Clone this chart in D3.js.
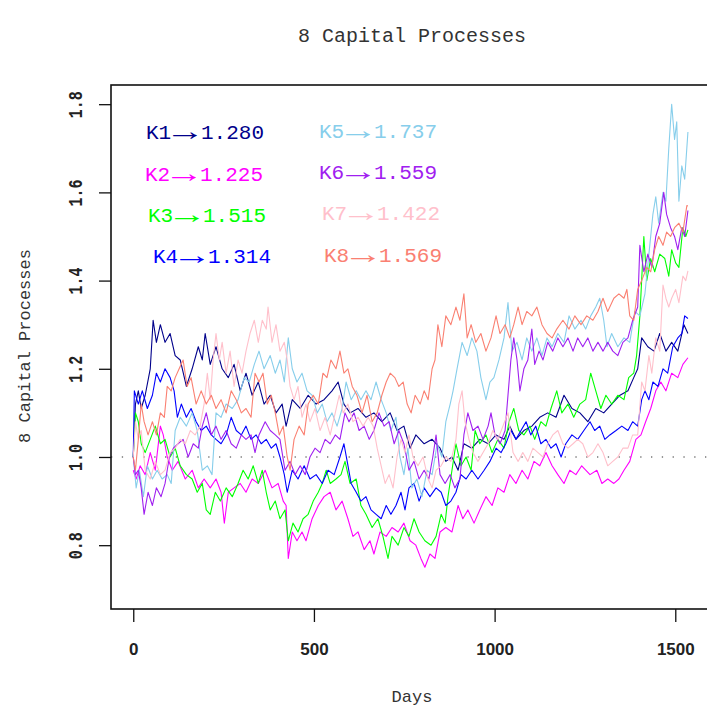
<!DOCTYPE html>
<html>
<head>
<meta charset="utf-8">
<script src="https://cdn.jsdelivr.net/npm/d3@7"></script>
<style>
  body { margin: 0; background: #fff; }
  svg { display: block; }
</style>
</head>
<body>
<script>

// Width and height of the page
var width = 707;
var height = 706;

// Plot region (R style box, right side runs past the window)
var margin = {left: 111, top: 85, right: 712, bottom: 609};

// ---- data: [day, capital] ----
var k1 = [[0,1.00],[6,1.12],[14,1.15],[22,1.11],[33,1.14],[47,1.20],[55,1.31],[64,1.26],[75,1.30],[88,1.26],[102,1.28],[116,1.23],[130,1.22],[147,1.16],[163,1.20],[180,1.25],[191,1.22],[199,1.28],[213,1.21],[229,1.25],[246,1.20],[263,1.18],[279,1.21],[296,1.15],[312,1.19],[329,1.14],[346,1.17],[362,1.12],[379,1.14],[395,1.10],[412,1.12],[423,1.07],[440,1.13],[462,1.11],[484,1.14],[506,1.12],[528,1.13],[550,1.15],[567,1.17],[583,1.12],[600,1.10],[622,1.11],[644,1.09],[666,1.10],[688,1.08],[711,1.10],[730,1.06],[749,1.07],[766,1.02],[782,1.05],[805,1.03],[827,1.04],[849,1.02],[865,0.99],[882,1.00],[899,0.97],[915,1.03],[937,1.02],[959,1.04],[982,1.03],[1004,1.05],[1026,1.04],[1042,1.07],[1059,1.04],[1081,1.06],[1103,1.07],[1125,1.09],[1147,1.10],[1170,1.09],[1192,1.14],[1214,1.11],[1236,1.10],[1258,1.08],[1280,1.11],[1302,1.10],[1324,1.12],[1347,1.14],[1369,1.15],[1385,1.18],[1396,1.20],[1407,1.27],[1424,1.25],[1441,1.24],[1457,1.28],[1474,1.24],[1490,1.26],[1507,1.24],[1524,1.30],[1535,1.28]];

var k2 = [[0,0.97],[8,0.95],[19,0.98],[33,0.96],[47,1.01],[61,0.97],[75,1.07],[83,1.05],[94,1.00],[108,0.97],[124,0.99],[144,0.95],[163,0.97],[180,0.93],[196,0.95],[213,0.93],[229,0.95],[243,0.92],[252,0.85],[263,0.92],[279,0.93],[296,0.94],[312,0.92],[329,0.95],[346,0.94],[365,0.97],[384,0.93],[401,0.94],[415,0.90],[423,0.89],[429,0.77],[440,0.83],[453,0.81],[467,0.83],[478,0.81],[495,0.86],[512,0.89],[528,0.91],[545,0.92],[561,0.88],[578,0.90],[594,0.86],[608,0.82],[622,0.83],[639,0.79],[655,0.81],[666,0.78],[683,0.83],[700,0.82],[716,0.84],[733,0.83],[749,0.85],[766,0.81],[782,0.80],[796,0.77],[807,0.75],[821,0.78],[835,0.77],[849,0.83],[865,0.84],[882,0.83],[899,0.89],[912,0.86],[926,0.88],[943,0.85],[959,0.88],[976,0.91],[993,0.89],[1009,0.93],[1026,0.92],[1042,0.96],[1059,0.94],[1076,0.97],[1092,0.95],[1109,0.99],[1125,0.98],[1142,1.01],[1159,0.98],[1175,0.96],[1192,0.94],[1208,0.97],[1225,0.96],[1241,0.98],[1264,0.96],[1283,0.97],[1297,0.94],[1313,0.95],[1330,0.94],[1344,0.95],[1358,0.97],[1374,0.99],[1391,1.04],[1405,1.05],[1418,1.08],[1432,1.11],[1446,1.15],[1460,1.17],[1474,1.15],[1490,1.19],[1507,1.18],[1521,1.21],[1535,1.225]];

var k3 = [[0,1.00],[6,1.10],[14,1.08],[22,1.03],[33,1.01],[47,1.04],[61,1.07],[75,1.03],[88,1.04],[102,1.00],[116,1.02],[130,0.98],[147,0.96],[163,0.95],[177,0.92],[191,0.94],[202,0.88],[213,0.87],[227,0.92],[241,0.90],[257,0.93],[274,0.91],[290,0.94],[304,0.97],[318,0.95],[332,0.98],[346,0.94],[357,0.97],[368,0.92],[379,0.88],[393,0.90],[406,0.86],[420,0.88],[429,0.81],[442,0.85],[456,0.83],[470,0.86],[484,0.87],[498,0.90],[512,0.92],[523,0.94],[534,0.97],[545,0.94],[561,0.95],[575,0.96],[586,0.99],[600,0.94],[617,0.95],[630,0.89],[644,0.87],[661,0.84],[677,0.86],[691,0.82],[705,0.77],[716,0.82],[733,0.80],[749,0.84],[763,0.82],[777,0.86],[791,0.83],[807,0.81],[824,0.80],[838,0.82],[852,0.87],[863,0.85],[871,0.91],[882,0.97],[893,1.03],[907,0.98],[921,1.00],[935,0.97],[946,1.06],[959,1.03],[976,1.05],[993,1.01],[1009,1.04],[1026,1.02],[1040,1.08],[1053,1.11],[1067,1.06],[1081,1.05],[1098,1.07],[1111,1.04],[1128,1.08],[1142,1.07],[1156,1.11],[1172,1.15],[1186,1.10],[1203,1.12],[1219,1.09],[1236,1.12],[1252,1.13],[1266,1.19],[1280,1.15],[1294,1.11],[1308,1.14],[1324,1.12],[1341,1.14],[1358,1.13],[1371,1.18],[1385,1.19],[1393,1.23],[1402,1.32],[1413,1.50],[1421,1.40],[1432,1.45],[1443,1.42],[1457,1.46],[1471,1.45],[1482,1.41],[1490,1.47],[1501,1.44],[1510,1.43],[1521,1.52],[1529,1.50],[1535,1.515]];

var k4 = [[0,1.00],[3,1.15],[14,1.12],[25,1.15],[39,1.11],[53,1.14],[64,1.19],[75,1.17],[88,1.20],[102,1.18],[113,1.15],[122,1.09],[133,1.12],[147,1.09],[160,1.11],[174,1.08],[188,1.06],[202,1.07],[216,1.05],[229,1.04],[243,1.03],[257,1.05],[271,1.09],[285,1.06],[299,1.05],[312,1.07],[326,1.04],[340,1.05],[354,1.03],[368,1.04],[382,1.02],[395,1.03],[406,1.00],[418,0.96],[426,0.92],[440,0.97],[456,0.95],[473,0.98],[489,0.95],[506,0.96],[523,0.94],[539,0.97],[556,0.96],[572,1.00],[583,1.03],[592,0.99],[603,0.94],[617,0.92],[630,0.90],[644,0.91],[658,0.88],[672,0.87],[686,0.86],[700,0.89],[713,0.87],[727,0.89],[741,0.92],[752,0.88],[763,0.93],[777,0.94],[791,0.90],[805,0.93],[821,0.91],[838,0.93],[852,0.92],[865,0.89],[879,0.90],[893,0.92],[907,0.96],[921,0.95],[937,0.97],[954,0.95],[971,0.97],[987,0.99],[1004,1.02],[1018,1.01],[1031,1.03],[1045,1.06],[1059,1.04],[1073,1.06],[1087,1.08],[1100,1.05],[1114,1.07],[1128,1.03],[1142,1.04],[1156,1.02],[1170,1.03],[1184,1.00],[1197,1.03],[1214,1.05],[1230,1.04],[1247,1.06],[1264,1.08],[1277,1.06],[1291,1.07],[1305,1.04],[1319,1.05],[1336,1.06],[1352,1.07],[1369,1.06],[1382,1.08],[1396,1.07],[1407,1.13],[1416,1.15],[1427,1.13],[1438,1.17],[1452,1.16],[1466,1.20],[1479,1.19],[1493,1.25],[1507,1.27],[1518,1.28],[1526,1.32],[1535,1.314]];

var k5 = [[0,1.00],[8,0.93],[17,0.97],[28,0.91],[39,0.98],[53,0.95],[66,0.97],[80,0.95],[94,0.96],[105,0.94],[116,1.06],[130,1.09],[147,1.07],[163,1.10],[177,1.06],[191,0.97],[205,0.98],[218,0.96],[229,1.10],[243,1.09],[257,1.12],[274,1.11],[290,1.13],[307,1.18],[321,1.17],[335,1.21],[348,1.24],[362,1.20],[379,1.23],[393,1.19],[406,1.22],[418,1.17],[429,1.27],[440,1.20],[453,1.17],[467,1.19],[481,1.15],[495,1.14],[509,1.10],[523,1.12],[536,1.08],[550,1.10],[564,1.07],[578,1.11],[589,1.17],[603,1.13],[617,1.15],[630,1.13],[644,1.15],[658,1.13],[672,1.17],[686,1.13],[700,1.10],[713,1.06],[727,1.09],[738,1.00],[749,0.96],[760,1.02],[771,0.93],[785,0.95],[799,0.91],[813,0.97],[827,0.96],[841,1.03],[854,1.00],[865,1.08],[877,1.12],[885,1.15],[896,1.20],[910,1.26],[924,1.23],[937,1.27],[951,1.24],[962,1.18],[976,1.13],[987,1.17],[998,1.18],[1012,1.22],[1026,1.27],[1037,1.35],[1048,1.24],[1062,1.26],[1076,1.22],[1089,1.27],[1103,1.24],[1117,1.27],[1131,1.23],[1145,1.27],[1159,1.25],[1175,1.28],[1192,1.26],[1206,1.32],[1222,1.29],[1239,1.31],[1252,1.29],[1266,1.32],[1280,1.34],[1291,1.36],[1302,1.31],[1311,1.25],[1324,1.28],[1341,1.25],[1358,1.27],[1374,1.26],[1388,1.33],[1402,1.32],[1416,1.37],[1427,1.46],[1438,1.55],[1446,1.59],[1454,1.53],[1466,1.60],[1474,1.58],[1482,1.70],[1490,1.80],[1498,1.72],[1504,1.76],[1510,1.58],[1518,1.66],[1526,1.63],[1535,1.737]];

var k6 = [[0,1.00],[6,0.96],[14,0.97],[22,0.93],[30,0.87],[41,0.92],[53,0.89],[64,0.93],[77,0.91],[88,0.94],[100,1.00],[111,1.02],[124,1.03],[138,1.04],[152,1.00],[166,1.03],[180,1.02],[191,1.07],[202,1.10],[216,1.05],[229,1.07],[243,1.04],[257,1.06],[271,1.03],[285,1.02],[299,1.05],[312,1.04],[326,1.05],[337,1.01],[348,1.05],[365,1.08],[379,1.06],[393,1.05],[406,1.04],[420,0.97],[434,0.99],[448,0.96],[462,0.98],[476,0.96],[489,1.00],[503,1.02],[517,1.01],[531,1.04],[545,1.03],[559,1.05],[572,1.04],[586,1.10],[597,1.08],[611,1.10],[625,1.06],[639,1.07],[653,1.04],[666,1.06],[680,1.10],[694,1.07],[708,1.08],[722,1.03],[735,1.06],[749,1.03],[763,0.97],[777,0.99],[791,0.95],[805,0.97],[818,0.95],[829,1.00],[838,1.05],[849,0.96],[863,0.94],[877,0.96],[890,0.93],[904,0.95],[915,1.05],[926,1.10],[940,1.06],[954,1.07],[968,1.04],[982,1.07],[990,1.10],[1001,1.05],[1015,1.03],[1029,1.06],[1037,1.14],[1045,1.22],[1053,1.27],[1062,1.22],[1070,1.15],[1081,1.20],[1092,1.22],[1103,1.29],[1111,1.21],[1123,1.24],[1134,1.22],[1147,1.26],[1161,1.24],[1175,1.27],[1189,1.25],[1203,1.27],[1217,1.24],[1230,1.27],[1244,1.25],[1258,1.27],[1272,1.24],[1286,1.26],[1300,1.24],[1313,1.26],[1327,1.24],[1341,1.23],[1355,1.26],[1369,1.27],[1382,1.31],[1396,1.34],[1402,1.48],[1413,1.42],[1424,1.46],[1435,1.43],[1446,1.50],[1457,1.53],[1468,1.60],[1476,1.55],[1487,1.52],[1498,1.50],[1507,1.47],[1518,1.52],[1526,1.50],[1535,1.559]];

var k7 = [[0,1.00],[6,1.08],[14,1.04],[22,1.06],[33,0.97],[47,0.95],[61,0.99],[75,0.96],[88,0.97],[102,1.01],[116,1.02],[130,1.04],[144,1.03],[158,1.06],[171,1.05],[185,1.07],[196,1.12],[205,1.19],[213,1.13],[221,1.22],[229,1.28],[238,1.22],[246,1.26],[257,1.19],[268,1.24],[279,1.16],[290,1.22],[301,1.19],[312,1.24],[323,1.28],[335,1.31],[346,1.26],[357,1.31],[368,1.29],[373,1.34],[384,1.26],[395,1.30],[406,1.24],[418,1.26],[426,1.22],[434,1.16],[445,1.13],[456,1.16],[467,1.09],[478,1.12],[489,1.08],[503,1.11],[517,1.06],[531,1.09],[545,1.05],[559,1.10],[570,1.14],[581,1.10],[594,1.12],[608,1.08],[622,1.09],[636,1.07],[650,1.09],[664,1.07],[675,1.02],[686,0.98],[697,0.94],[708,0.96],[719,0.93],[730,1.00],[741,1.04],[752,1.01],[763,1.05],[774,1.00],[788,0.98],[802,1.00],[816,0.95],[827,0.93],[838,0.97],[852,0.98],[865,1.00],[879,0.99],[893,1.04],[901,1.12],[910,1.15],[918,1.08],[929,1.04],[940,1.01],[954,0.99],[968,1.01],[982,1.03],[995,1.06],[1009,1.04],[1023,1.07],[1037,1.10],[1051,1.01],[1065,0.99],[1078,1.01],[1092,0.99],[1106,1.02],[1120,1.01],[1134,1.00],[1147,1.03],[1161,1.05],[1175,1.06],[1189,1.03],[1203,1.02],[1217,1.03],[1230,1.04],[1244,1.03],[1258,1.00],[1272,1.01],[1286,1.03],[1300,1.01],[1313,0.98],[1327,0.99],[1341,1.00],[1355,1.02],[1369,1.02],[1382,1.05],[1396,1.05],[1407,1.17],[1416,1.15],[1427,1.23],[1435,1.19],[1446,1.27],[1457,1.24],[1466,1.39],[1474,1.36],[1482,1.34],[1490,1.36],[1501,1.38],[1510,1.35],[1521,1.41],[1529,1.40],[1535,1.422]];

var k8 = [[0,1.00],[6,0.97],[14,1.04],[22,1.12],[30,1.08],[41,1.05],[53,1.08],[64,1.05],[75,1.10],[86,1.09],[94,1.16],[105,1.15],[116,1.18],[127,1.20],[138,1.22],[149,1.16],[160,1.18],[174,1.12],[188,1.15],[202,1.12],[216,1.14],[229,1.11],[243,1.13],[257,1.10],[271,1.15],[285,1.13],[299,1.10],[312,1.11],[326,1.09],[337,1.19],[348,1.17],[359,1.19],[371,1.12],[382,1.14],[393,1.10],[404,1.05],[415,1.07],[426,1.00],[434,0.97],[445,1.04],[459,1.07],[473,1.05],[484,1.12],[498,1.14],[512,1.12],[525,1.19],[536,1.18],[547,1.22],[561,1.20],[572,1.24],[583,1.19],[594,1.20],[606,1.16],[619,1.14],[633,1.10],[647,1.14],[661,1.08],[675,1.10],[688,1.14],[700,1.17],[711,1.19],[724,1.18],[735,1.16],[747,1.17],[758,1.12],[769,1.10],[780,1.14],[794,1.12],[805,1.15],[816,1.13],[827,1.20],[835,1.22],[843,1.30],[854,1.25],[865,1.32],[879,1.30],[893,1.34],[904,1.31],[915,1.37],[924,1.27],[935,1.30],[948,1.26],[962,1.28],[976,1.24],[990,1.27],[1004,1.32],[1015,1.28],[1029,1.30],[1042,1.27],[1053,1.30],[1065,1.34],[1076,1.30],[1089,1.33],[1103,1.32],[1117,1.34],[1131,1.30],[1145,1.28],[1159,1.27],[1172,1.29],[1189,1.31],[1206,1.29],[1222,1.32],[1239,1.30],[1255,1.32],[1272,1.31],[1286,1.33],[1300,1.36],[1313,1.33],[1330,1.36],[1344,1.37],[1358,1.36],[1366,1.38],[1374,1.32],[1385,1.31],[1396,1.38],[1407,1.40],[1421,1.43],[1432,1.42],[1443,1.47],[1454,1.50],[1466,1.48],[1476,1.51],[1487,1.50],[1498,1.52],[1510,1.53],[1521,1.51],[1532,1.57],[1535,1.569]];

var seriesNames = ["K1", "K2", "K3", "K4", "K5", "K6", "K7", "K8"];
var finalValues = ["1.280", "1.225", "1.515", "1.314", "1.737", "1.559", "1.422", "1.569"];
var lineColors = ["#00008B", "#FF00FF", "#00FF00", "#0000FF", "#87CEEB", "#A020F0", "#FFC0CB", "#FA8072"];
var xTicks = [0, 500, 1000, 1500];
var yTicks = [0.8, 1.0, 1.2, 1.4, 1.6, 1.8];

var allSeries = [k1, k2, k3, k4, k5, k6, k7, k8];

// Scales
var x = d3.scaleLinear()
          .domain([-61.6, 1601.6])
          .range([margin.left, margin.right]);

var y = d3.scaleLinear()
          .domain([0.6553, 1.8435])
          .range([margin.bottom, margin.top]);

var svg = d3.select("body")
            .append("svg")
            .attr("width", width)
            .attr("height", height);

var mono = "'Liberation Mono', 'DejaVu Sans Mono', monospace";

// Title
svg.append("text")
   .attr("x", 412)
   .attr("y", 42)
   .attr("text-anchor", "middle")
   .style("font-family", mono)
   .style("font-size", "20px")
   .style("fill", "#333")
   .text("8 Capital Processes");

// clip so nothing leaks outside the box
svg.append("clipPath").attr("id", "plotclip")
   .append("rect")
   .attr("x", margin.left).attr("y", margin.top)
   .attr("width", margin.right - margin.left)
   .attr("height", margin.bottom - margin.top);

var plot = svg.append("g").attr("clip-path", "url(#plotclip)");

// dotted reference line at 1
plot.append("line")
    .attr("x1", margin.left).attr("x2", margin.right)
    .attr("y1", y(1)).attr("y2", y(1))
    .style("stroke", "#333")
    .style("stroke-width", 1.2)
    .style("stroke-dasharray", "1.3,9.5");

var line = d3.line()
             .x(function(d) { return x(d[0]); })
             .y(function(d) { return y(d[1]); });

plot.selectAll("path.k")
    .data(allSeries)
    .enter()
    .append("path")
    .attr("class", "k")
    .attr("d", line)
    .style("fill", "none")
    .style("stroke", function(d, i) { return lineColors[i]; })
    .style("stroke-width", 1.1)
    .style("stroke-linejoin", "round");

// Box around the plot
svg.append("rect")
   .attr("x", margin.left)
   .attr("y", margin.top)
   .attr("width", margin.right - margin.left)
   .attr("height", margin.bottom - margin.top)
   .style("fill", "none")
   .style("stroke", "#111")
   .style("stroke-width", 1.6);

// x axis
var xAxis = svg.append("g")
               .attr("transform", "translate(0," + margin.bottom + ")")
               .call(d3.axisBottom(x).tickValues(xTicks).tickSize(13).tickFormat(d3.format("d")));
xAxis.select(".domain").remove();
xAxis.selectAll(".tick line").style("stroke", "#111").style("stroke-width", 1.3);
xAxis.selectAll(".tick text")
     .attr("y", 40)
     .attr("dy", "0.35em")
     .style("font-family", "'Liberation Sans', Arial, sans-serif")
     .style("font-weight", "bold")
     .style("font-size", "17px")
     .style("fill", "#222");

// y axis, labels turned like R's default
var yAxis = svg.append("g")
               .attr("transform", "translate(" + margin.left + ",0)")
               .call(d3.axisLeft(y).tickValues(yTicks).tickSize(12).tickFormat(d3.format(".1f")));
yAxis.select(".domain").remove();
yAxis.selectAll(".tick line").style("stroke", "#111").style("stroke-width", 1.3);
yAxis.selectAll(".tick text")
     .attr("x", null).attr("dy", null)
     .attr("text-anchor", "middle")
     .attr("transform", "translate(-36,0) rotate(-90)")
     .attr("y", 7)
     .attr("textLength", 27)
     .attr("lengthAdjust", "spacingAndGlyphs")
     .style("font-family", mono)
     .style("font-weight", "bold")
     .style("font-size", "21px")
     .style("fill", "#222");

// axis titles
svg.append("text")
   .attr("x", 412)
   .attr("y", 702)
   .attr("text-anchor", "middle")
   .style("font-family", mono)
   .style("font-size", "17px")
   .style("fill", "#333")
   .text("Days");

svg.append("text")
   .attr("transform", "translate(30,346) rotate(-90)")
   .attr("text-anchor", "middle")
   .style("font-family", mono)
   .style("font-size", "17px")
   .style("fill", "#333")
   .text("8 Capital Processes");

// legend text: name -> final value
var legendX = [146, 145, 148, 153, 319, 319, 322, 324];
var legendY = [139, 181, 222, 263, 138, 179, 220, 262];

var leg = svg.selectAll("g.leg")
   .data(seriesNames)
   .enter()
   .append("g")
   .attr("class", "leg")
   .attr("transform", function(d, i) { return "translate(" + legendX[i] + "," + legendY[i] + ")"; })
   .style("fill", function(d, i) { return lineColors[i]; });

leg.append("text")
   .style("font-family", mono)
   .style("font-size", "21px")
   .text(function(d) { return d; });

// thin stretched arrow like the plotmath one
leg.append("text")
   .attr("x", 27)
   .attr("y", 1)
   .attr("textLength", 24)
   .attr("lengthAdjust", "spacingAndGlyphs")
   .style("font-family", mono)
   .style("font-size", "26px")
   .text("\u2192");

leg.append("text")
   .attr("x", 55)
   .style("font-family", mono)
   .style("font-size", "21px")
   .text(function(d, i) { return finalValues[i]; });

</script>
</body>
</html>
